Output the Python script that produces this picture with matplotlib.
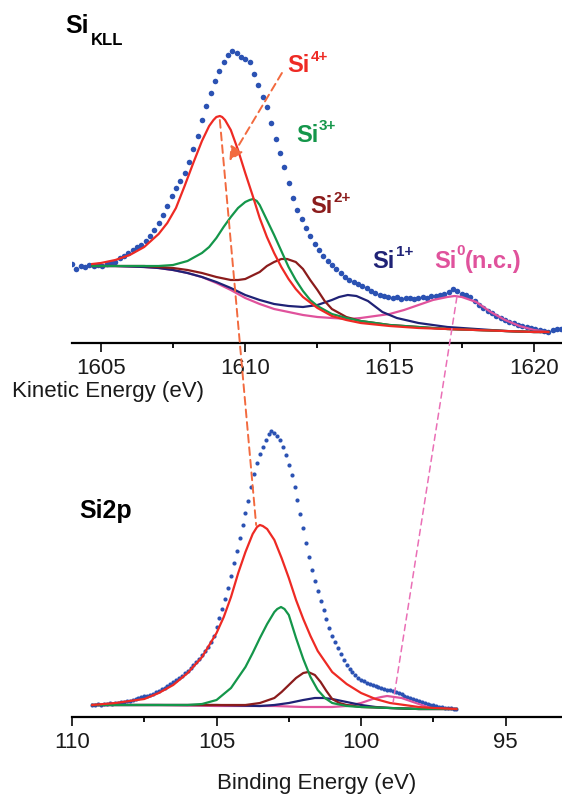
import numpy as np
import matplotlib
matplotlib.use('Agg')
import matplotlib.pyplot as plt
from matplotlib.patches import ConnectionPatch
from matplotlib.ticker import MultipleLocator

plt.rcParams['font.family'] = ['Liberation Sans', 'DejaVu Sans']

# ---------------- Si KLL (kinetic energy, eV) ----------------
kll_start, kll_step = 1604.0, 0.15
kll_counts = [79, 74, 77, 76, 78, 77, 78, 77, 79, 80,
              81, 85, 87, 90, 93, 96, 98, 102, 107, 113,
              120, 128, 137, 147, 155, 162, 170, 181, 194, 207,
              223, 237, 250, 262, 272, 281, 288, 292, 290, 286,
              284, 281, 269, 258, 246, 236, 220, 204, 190, 176,
              160, 145, 133, 124, 115, 107, 99, 93, 87, 82,
              78, 74, 70, 66, 63, 61, 59, 57, 55, 52,
              50, 48, 47, 46, 45, 46, 44, 45, 45, 44,
              45, 46, 45, 47, 47, 48, 49, 51, 54, 52,
              49, 48, 46, 42, 38, 35, 32, 30, 27, 25,
              23, 21, 20, 18, 17, 16, 15, 14, 13, 12,
              11, 13, 14, 14]

kll_si4_e = [1604.7, 1605.0, 1605.5, 1606.0, 1606.5, 1607.0, 1607.3, 1607.6, 1607.9, 1608.2,
             1608.5, 1608.75, 1608.9, 1609.0, 1609.12, 1609.2, 1609.3, 1609.5, 1609.75, 1610.0,
             1610.25, 1610.5, 1610.75, 1611.0, 1611.25, 1611.5, 1611.75, 1612.0, 1612.5, 1613.0,
             1613.5, 1614.0, 1615.0, 1616.0, 1617.0, 1618.0, 1619.0, 1620.0, 1620.5]
kll_si4 = [79, 80, 83, 88, 96, 109, 120, 135, 157, 180,
           202, 217, 223, 226, 227, 226, 223, 213, 193, 170,
           148, 125, 106, 90, 76, 64, 54, 46, 35, 27,
           23, 20, 17, 15, 14, 13, 12, 11, 11]

kll_si3_e = [1604.7, 1605.5, 1606.5, 1607.0, 1607.5, 1608.0, 1608.5, 1608.75, 1609.0, 1609.25,
             1609.5, 1609.75, 1610.0, 1610.15, 1610.27, 1610.4, 1610.5, 1610.75, 1611.0, 1611.25,
             1611.5, 1611.75, 1612.0, 1612.25, 1612.5, 1613.0, 1613.5, 1614.0, 1615.0, 1616.0,
             1617.0, 1618.0, 1619.0, 1620.0, 1620.5]
kll_si3 = [77, 77, 77, 77, 78, 82, 90, 96, 105, 116,
           126, 135, 141, 143, 144, 142, 138, 123, 108, 92,
           76, 63, 52, 43, 37, 29, 25, 22, 18, 16,
           14, 13, 12, 11, 11]

kll_si2_e = [1604.7, 1605.5, 1606.5, 1607.0, 1607.5, 1608.0, 1608.5, 1609.0, 1609.5, 1609.75,
             1610.0, 1610.5, 1610.75, 1611.0, 1611.25, 1611.45, 1611.75, 1612.0, 1612.25, 1612.5,
             1612.75, 1613.0, 1613.5, 1614.0, 1615.0, 1616.0, 1617.0, 1618.0, 1619.0, 1620.0,
             1620.5]
kll_si2 = [77, 77, 77, 76, 75, 73, 70, 66, 63, 63,
           64, 71, 77, 81, 84, 84, 81, 74, 63, 53,
           42, 34, 26, 22, 18, 16, 14, 13, 12, 11,
           11]

kll_si1_e = [1604.7, 1605.5, 1606.5, 1607.0, 1607.5, 1608.0, 1608.5, 1609.0, 1609.5, 1610.0,
             1610.5, 1611.0, 1611.5, 1612.0, 1612.5, 1613.0, 1613.25, 1613.55, 1613.85, 1614.25,
             1614.75, 1615.25, 1616.0, 1617.0, 1618.0, 1619.0, 1620.0, 1620.5]
kll_si1 = [77, 77, 76, 75, 73, 70, 66, 61, 55, 48,
           43, 39, 37, 36, 38, 43, 46, 48, 47, 42,
           31, 25, 20, 16, 14, 12, 11, 11]

kll_si0_e = [1604.7, 1605.5, 1606.5, 1607.0, 1607.5, 1608.0, 1608.5, 1609.0, 1609.5, 1610.0,
             1610.5, 1611.0, 1611.5, 1612.0, 1612.5, 1613.0, 1613.6, 1614.0, 1614.5, 1615.0,
             1615.5, 1616.0, 1616.5, 1617.0, 1617.25, 1617.5, 1618.0, 1618.5, 1619.0, 1619.5,
             1620.0, 1620.5]
kll_si0 = [77, 77, 76, 75, 73, 70, 66, 60, 53, 45,
           39, 34, 31, 28, 26, 25, 24, 25, 27, 29,
           33, 38, 43, 46, 47, 46, 41, 31, 23, 17,
           13, 11]

# ---------------- Si 2p (binding energy, eV) ----------------
s2p_start, s2p_step = 109.3, -0.1
s2p_counts = [12, 12, 13, 12, 13, 13, 14, 13, 14, 14,
              15, 15, 16, 16, 17, 18, 19, 20, 21, 21,
              22, 23, 25, 26, 28, 29, 31, 33, 35, 37,
              39, 41, 44, 46, 49, 52, 55, 58, 62, 66,
              70, 75, 81, 90, 99, 108, 118, 129, 141, 154,
              166, 179, 192, 204, 216, 230, 243, 254, 263, 270,
              277, 283, 286, 284, 281, 277, 270, 262, 252, 242,
              230, 217, 203, 189, 174, 160, 147, 136, 126, 116,
              107, 98, 89, 81, 75, 69, 63, 57, 52, 48,
              45, 42, 39, 37, 36, 34, 33, 32, 31, 30,
              29, 28, 27, 27, 26, 25, 24, 23, 21, 20,
              19, 18, 17, 16, 15, 14, 13, 12, 12, 11,
              10, 10, 9, 9, 9, 8, 8]

s2p_si4_e = [109.3, 108.5, 108.0, 107.5, 107.0, 106.5, 106.0, 105.5, 105.0, 104.75,
             104.5, 104.25, 104.0, 103.75, 103.6, 103.5, 103.4, 103.25, 103.0, 102.75,
             102.5, 102.25, 102.0, 101.75, 101.5, 101.0, 100.5, 100.0, 99.5, 99.0,
             98.5, 98.0, 97.5, 96.7]
s2p_si4 = [12, 14, 16, 18, 24, 32, 44, 60, 84, 100,
           120, 144, 165, 183, 190, 192, 191, 188, 177, 159,
           139, 117, 98, 81, 66, 45, 33, 24, 18, 14,
           12, 10, 9, 8]

s2p_si3_e = [109.3, 108.0, 107.0, 106.0, 105.5, 105.0, 104.5, 104.0, 103.75, 103.5,
             103.25, 103.0, 102.9, 102.77, 102.65, 102.5, 102.25, 102.0, 101.75, 101.5,
             101.25, 101.0, 100.5, 100.0, 99.0, 98.0, 96.7]
s2p_si3 = [12, 12, 12, 12, 13, 17, 29, 50, 64, 79,
           93, 105, 108, 110, 108, 102, 79, 58, 40, 27,
           19, 14, 11, 10, 9, 8, 8]

s2p_si2_e = [109.3, 107.0, 105.0, 104.0, 103.5, 103.0, 102.75, 102.5, 102.25, 102.0,
             101.83, 101.6, 101.4, 101.2, 101.0, 100.75, 100.5, 100.0, 99.0, 98.0,
             96.7]
s2p_si2 = [12, 12, 12, 12, 14, 19, 25, 32, 39, 44,
           45, 42, 35, 26, 18, 14, 12, 10, 9, 8,
           8]

s2p_si1_e = [109.3, 105.0, 103.5, 103.0, 102.5, 102.0, 101.6, 101.3, 101.0, 100.5,
             100.0, 99.5, 99.0, 98.0, 96.7]
s2p_si1 = [12, 12, 11, 12, 14, 17, 19, 19, 18, 15,
           12, 10, 9, 8, 8]

s2p_si0_e = [109.3, 107.0, 105.0, 103.0, 102.0, 101.0, 100.5, 100.0, 99.6, 99.3,
             99.1, 98.85, 98.6, 98.3, 98.0, 97.6, 97.0, 96.7]
s2p_si0 = [12, 12, 11, 11, 10, 10, 11, 14, 18, 20,
           21, 20, 19, 16, 13, 9, 8, 8]

# colours
c_dots = '#2b52b3'
c_si4 = '#ee2a24'
c_si3 = '#14964a'
c_si2 = '#8b1c1c'
c_si1 = '#1f2276'
c_si0 = '#e0529c'
c_dash_red = '#f26a3f'
c_dash_pink = '#ea6fb6'

W, H = 562, 796


def px(x, y):
    return x / W, 1 - y / H


fig = plt.figure(figsize=(W / 100, H / 100), dpi=100)
ax1 = fig.add_axes([72 / W, 1 - 343 / H, 490 / W, 303 / H])
ax2 = fig.add_axes([72 / W, 1 - 717 / H, 490 / W, 297 / H])

kll_ke = kll_start + kll_step * np.arange(len(kll_counts))
s2p_be = s2p_start + s2p_step * np.arange(len(s2p_counts))

lw = 1.6
ax1.plot(kll_ke, kll_counts, 'o', color=c_dots, ms=4.0, mew=0, zorder=2)
ax1.plot(kll_si0_e, kll_si0, color=c_si0, lw=lw, zorder=3)
ax1.plot(kll_si1_e, kll_si1, color=c_si1, lw=lw, zorder=3)
ax1.plot(kll_si2_e, kll_si2, color=c_si2, lw=lw, zorder=3)
ax1.plot(kll_si3_e, kll_si3, color=c_si3, lw=lw, zorder=3)
ax1.plot(kll_si4_e, kll_si4, color=c_si4, lw=lw, zorder=3)

ax2.plot(s2p_be, s2p_counts, 'o', color=c_dots, ms=3.0, mew=0, zorder=2)
ax2.plot(s2p_si0_e, s2p_si0, color=c_si0, lw=lw, zorder=3)
ax2.plot(s2p_si1_e, s2p_si1, color=c_si1, lw=lw, zorder=3)
ax2.plot(s2p_si2_e, s2p_si2, color=c_si2, lw=lw, zorder=3)
ax2.plot(s2p_si3_e, s2p_si3, color=c_si3, lw=lw, zorder=3)
ax2.plot(s2p_si4_e, s2p_si4, color=c_si4, lw=lw, zorder=3)

ax1.set_xlim(1604.0, 1620.97)
ax1.set_ylim(0, 303)
ax2.set_xlim(110, 93.05)
ax2.set_ylim(0, 297)

for ax in (ax1, ax2):
    ax.patch.set_visible(False)
    for s in ('left', 'right', 'top'):
        ax.spines[s].set_visible(False)
    ax.spines['bottom'].set_linewidth(1.6)
    ax.set_yticks([])
    ax.xaxis.set_major_locator(MultipleLocator(5))
    ax.xaxis.set_minor_locator(MultipleLocator(2.5))
    ax.tick_params(axis='x', which='major', length=6.5, width=1.3, pad=4.5,
                   labelsize=16, colors='#1a1a1a')
    ax.tick_params(axis='x', which='minor', length=3.8, width=1.3)

ax1.set_xlabel('Kinetic Energy (eV)', fontsize=16, color='#1a1a1a', ha='left', va='baseline')
ax1.xaxis.set_label_coords((12 - 72) / 490, (343 - 397) / 303)
ax2.set_xlabel('Binding Energy (eV)', fontsize=16, color='#1a1a1a', va='baseline')
ax2.xaxis.set_label_coords(0.5, (717 - 789) / 297)

# dashed guides between the panels
dash = (0, (4, 2.5))
con1 = ConnectionPatch(xyA=(1609.12, 223), coordsA=ax1.transData,
                       xyB=(103.63, 192), coordsB=ax2.transData,
                       color=c_dash_red, lw=1.4, linestyle=dash, zorder=5)
fig.add_artist(con1)
con2 = ConnectionPatch(xyA=(1617.33, 46), coordsA=ax1.transData,
                       xyB=(98.89, 15), coordsB=ax2.transData,
                       color=c_dash_pink, lw=1.1, linestyle=(0, (4, 3)), zorder=5)
fig.add_artist(con2)

ax1.annotate('', xy=(1609.45, 182), xytext=(1611.27, 270),
             arrowprops=dict(arrowstyle='-|>,head_length=0.7,head_width=0.35',
                             color=c_dash_red, lw=1.4, linestyle=dash,
                             shrinkA=0, shrinkB=0, mutation_scale=12))

# labels
bold = dict(fontweight='bold')
fig.text(*px(65, 33), 'Si', fontsize=18, va='baseline', **bold)
fig.text(*px(91, 45), 'KLL', fontsize=12, va='baseline', **bold)
fig.text(*px(79, 518), 'Si2p', fontsize=18, va='baseline', **bold)

states = [
    (287, 72, 311, 61, '4+', c_si4),
    (296, 142, 319, 130, '3+', c_si3),
    (310, 213, 334, 202, '2+', c_si2),
    (372, 268, 396, 256, '1+', c_si1),
    (434, 268, 456, 255, '0', c_si0),
]
for x0, y0, x1, y1, sup, col in states:
    fig.text(*px(x0, y0), 'Si', fontsize=17, color=col, va='baseline', **bold)
    fig.text(*px(x1, y1), sup, fontsize=11, color=col, va='baseline', **bold)
fig.text(*px(465, 268), '(n.c.)', fontsize=17, color=c_si0, va='baseline', **bold)

fig.savefig('out.png', dpi=100)
